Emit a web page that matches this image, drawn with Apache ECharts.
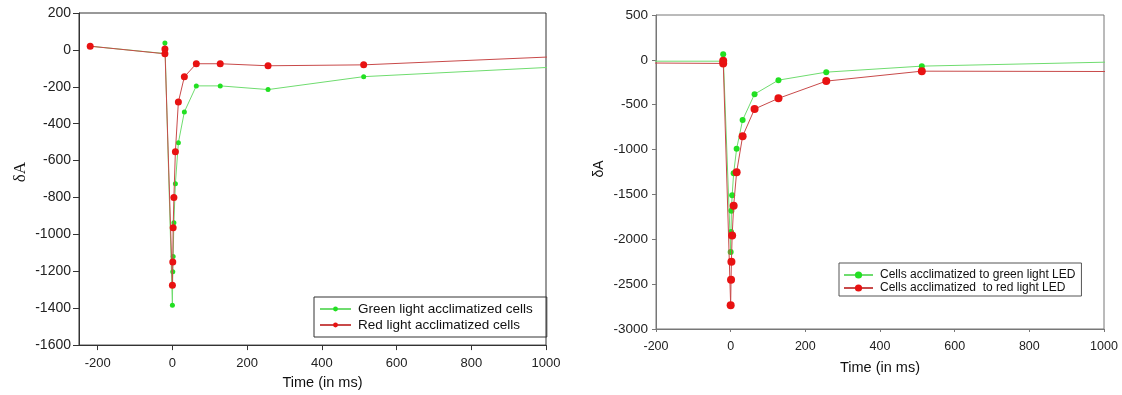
<!DOCTYPE html>
<html>
<head>
<meta charset="utf-8">
<script src="https://cdn.jsdelivr.net/npm/echarts@6/dist/echarts.min.js"></script>
<style>
  html, body { margin: 0; padding: 0; background: #fff; }
  #chart { width: 1122px; height: 395px; }
</style>
</head>
<body>
<div id="chart"></div>
<script>
// left panel: time (ms) and δA
const leftTimes = [-220, -20, -20, 0, 1, 2, 4, 8, 16, 32, 64, 128, 256, 512, 1024];
const leftGreen = [20, -20, 38, -1384, -1202, -1120, -937, -725, -503, -336, -195, -195, -215, -145, -93];
const leftRed = [20, -21, 5, -1275, -1150, -964, -800, -552, -282, -146, -75, -75, -86, -81, -37];

// right panel
const rightTimes = [-220, -20, -20, 0, 1, 2, 4, 8, 16, 32, 64, 128, 256, 512, 1024];
const rightGreen = [-15, -15, 63, -2142, -1920, -1683, -1508, -1264, -990, -671, -382, -226, -137, -70, -24];
const rightRed = [-35, -40, -11, -2736, -2450, -2250, -1958, -1627, -1252, -852, -548, -429, -237, -126, -130];

const leftXTicks = [-200, 0, 200, 400, 600, 800, 1000];

const leftNames = ["Green light acclimatized cells", "Red light acclimatized cells"];
const rightNames = ["Cells acclimatized to green light LED", "Cells acclimatized  to red light LED"];

const GREEN_LINE = "#6fdc6f";
const RED_LINE = "#c84a4a";
const GREEN_DOT = "#22e022";
const RED_DOT = "#e81212";

const pairs = (xs, ys) => xs.map((x, i) => [x, ys[i]]);
const plain = (v) => String(v);

const chart = echarts.init(document.getElementById("chart"));

const labelFont = { fontFamily: "Liberation Sans, Arial, sans-serif", color: "#222" };

function makeSeries(name, xs, ys, idx, lineColor, dotColor, size, z) {
  return {
    name,
    type: "line",
    xAxisIndex: idx,
    yAxisIndex: idx,
    data: pairs(xs, ys),
    symbol: "circle",
    symbolSize: size,
    showSymbol: true,
    clip: true,
    z,
    lineStyle: { color: lineColor, width: 1 },
    itemStyle: { color: dotColor, borderWidth: 0 },
    emphasis: { disabled: true },
  };
}

chart.setOption({
  animation: false,
  grid: [
    { left: 79, top: 13, width: 467, height: 335, show: true, borderColor: "#333", borderWidth: 1, backgroundColor: "transparent" },
    { left: 656, top: 15, width: 448, height: 314, show: true, borderColor: "#777", borderWidth: 1, backgroundColor: "transparent" },
  ],
  legend: [
    {
      data: leftNames,
      orient: "vertical",
      left: 314,
      top: 297,
      padding: [5, 14, 5, 5],
      itemGap: 2,
      itemWidth: 31,
      itemHeight: 6,
      borderColor: "#333",
      borderWidth: 1,
      textStyle: { ...labelFont, fontSize: 13.5, color: "#111", padding: [0, 0, 0, 2] },
    },
    {
      data: rightNames,
      orient: "vertical",
      left: 839,
      top: 263,
      padding: [6, 6, 2, 4],
      itemGap: 1,
      itemWidth: 29,
      itemHeight: 9,
      borderColor: "#555",
      borderWidth: 1,
      textStyle: { ...labelFont, fontSize: 12, color: "#111", padding: [0, 0, 0, 2] },
    },
  ],
  xAxis: [
    {
      gridIndex: 0,
      type: "value",
      min: -250,
      max: 1000,
      name: "Time (in ms)",
      nameLocation: "middle",
      nameGap: 29,
      nameTextStyle: { ...labelFont, fontSize: 14.5, color: "#111", padding: [0, 0, 0, 20] },
      axisLine: { onZero: false, lineStyle: { color: "#333", width: 1 } },
      axisTick: { show: true, length: 5, customValues: leftXTicks, lineStyle: { color: "#333" } },
      axisLabel: { ...labelFont, fontSize: 13, margin: 12, customValues: leftXTicks, formatter: plain },
      splitLine: { show: false },
    },
    {
      gridIndex: 1,
      type: "value",
      min: -200,
      max: 1000,
      interval: 200,
      name: "Time (in ms)",
      nameLocation: "middle",
      nameGap: 31,
      nameTextStyle: { ...labelFont, fontSize: 14.5, color: "#111" },
      axisLine: { onZero: false, lineStyle: { color: "#777", width: 1 } },
      axisTick: { show: true, length: 3, lineStyle: { color: "#777" } },
      axisLabel: { ...labelFont, fontSize: 12.5, margin: 11, formatter: plain },
      splitLine: { show: false },
    },
  ],
  yAxis: [
    {
      gridIndex: 0,
      type: "value",
      min: -1600,
      max: 200,
      interval: 200,
      name: "δA",
      nameLocation: "middle",
      nameRotate: 90,
      nameGap: 50,
      nameTextStyle: { fontFamily: "Liberation Serif, Times New Roman, serif", fontSize: 17, color: "#111", padding: [0, 0, 0, 14] },
      axisLine: { onZero: false, lineStyle: { color: "#333", width: 1 } },
      axisTick: { show: true, length: 6, lineStyle: { color: "#333" } },
      axisLabel: { ...labelFont, fontSize: 14, margin: 8, formatter: plain },
      splitLine: { show: false },
    },
    {
      gridIndex: 1,
      type: "value",
      min: -3000,
      max: 500,
      interval: 500,
      name: "δA",
      nameLocation: "middle",
      nameRotate: 90,
      nameGap: 50,
      nameTextStyle: { ...labelFont, fontSize: 14, color: "#111", padding: [0, 0, 0, 6] },
      axisLine: { onZero: false, lineStyle: { color: "#777", width: 1 } },
      axisTick: { show: true, length: 4, lineStyle: { color: "#777" } },
      axisLabel: { ...labelFont, fontSize: 13.5, margin: 8, formatter: plain },
      splitLine: { show: false },
    },
  ],
  series: [
    makeSeries(leftNames[0], leftTimes, leftGreen, 0, GREEN_LINE, GREEN_DOT, 5, 2),
    makeSeries(leftNames[1], leftTimes, leftRed, 0, RED_LINE, RED_DOT, 7, 3),
    makeSeries(rightNames[0], rightTimes, rightGreen, 1, GREEN_LINE, GREEN_DOT, 6, 2),
    makeSeries(rightNames[1], rightTimes, rightRed, 1, RED_LINE, RED_DOT, 8, 3),
  ],
});
</script>
</body>
</html>
